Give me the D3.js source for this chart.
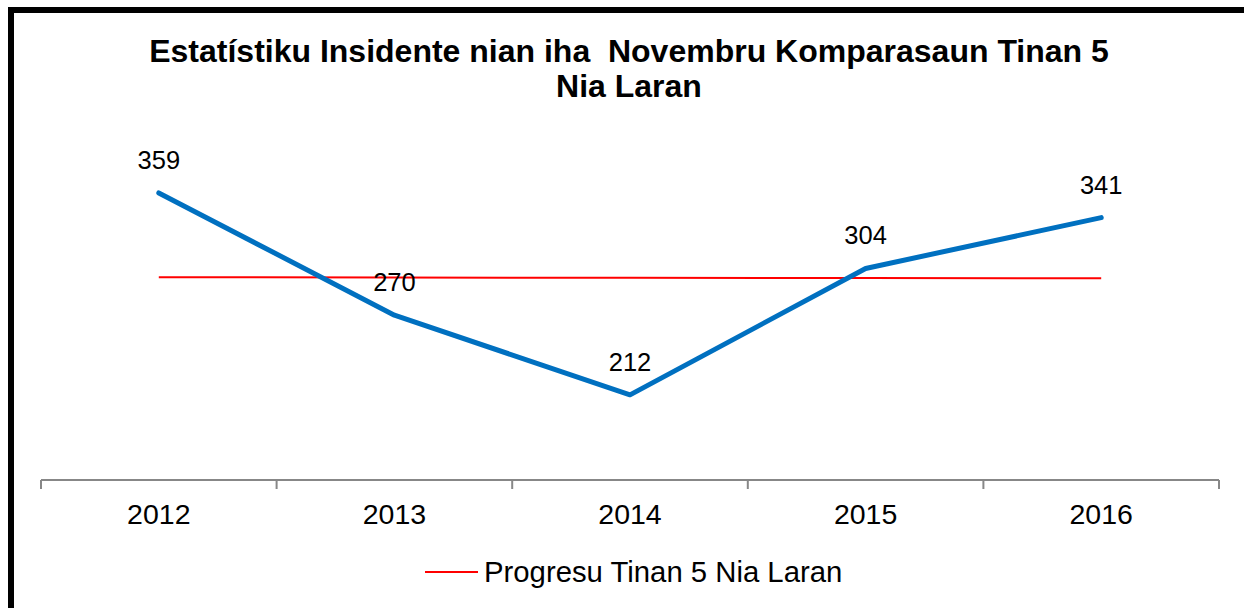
<!DOCTYPE html>
<html><head><meta charset="utf-8">
<script src="https://cdn.jsdelivr.net/npm/d3@7"></script>
<style>html,body{margin:0;padding:0;background:#fff;}svg{display:block;font-family:"Liberation Sans",Arial,sans-serif;}</style>
</head><body>
<svg id="chart" width="1244" height="608"></svg>
<script>
const years = ["2012","2013","2014","2015","2016"];
const incidents = [359, 270, 212, 304, 341];
const trend = [297.6, 297.4, 297.2, 297.0, 296.8];
const titleLines = ["Estatístiku Insidente nian iha  Novembru Komparasaun Tinan 5", "Nia Laran"];
const legendLabel = "Progresu Tinan 5 Nia Laran";

const svg = d3.select("#chart");
svg.append("rect").attr("x",11).attr("y",10).attr("width",1300).attr("height",700)
  .attr("fill","#fff").attr("stroke","#000").attr("stroke-width",6);

const x = d3.scaleBand().domain(years).range([41,1219]);
const y = d3.scaleLinear().domain([150,400]).range([480,136.6]);
const cx = d => x(d) + x.bandwidth()/2;

// title
svg.append("text").attr("text-anchor","middle").attr("font-weight","bold").attr("font-size",32)
  .selectAll("tspan").data(titleLines).join("tspan")
  .attr("x",629).attr("y",(d,i)=>62+i*35).attr("xml:space","preserve").style("white-space","pre").text(d=>d);

// axis
const g = svg.append("g").attr("transform","translate(0,480)");
g.append("line").attr("x1",41).attr("x2",1219).attr("y1",0).attr("y2",0).attr("stroke","#878787").attr("stroke-width",2);
const bounds = years.map(d=>x(d)).concat([x(years[years.length-1])+x.bandwidth()]);
g.selectAll("line.tick").data(bounds).join("line").attr("class","tick")
  .attr("x1",d=>d).attr("x2",d=>d).attr("y1",0).attr("y2",9).attr("stroke","#878787").attr("stroke-width",2);
g.selectAll("text").data(years).join("text").attr("x",d=>cx(d)).attr("y",44)
  .attr("text-anchor","middle").attr("font-size",28.5).attr("fill","#000").text(d=>d);

// trend line
const line = d3.line().x((d,i)=>cx(years[i])).y(d=>y(d));
svg.append("path").datum(trend).attr("d",line).attr("fill","none").attr("stroke","#ff0000").attr("stroke-width",2);

// main line
svg.append("path").datum(incidents).attr("d",line).attr("fill","none").attr("stroke","#0070c0")
  .attr("stroke-width",5).attr("stroke-linejoin","round").attr("stroke-linecap","round");

// labels
svg.selectAll("text.lbl").data(incidents).join("text").attr("class","lbl")
  .attr("x",(d,i)=>cx(years[i])).attr("y",d=>y(d)-24).attr("text-anchor","middle")
  .attr("font-size",25.5).attr("fill","#000").text(d=>d);

// legend
svg.append("line").attr("x1",425).attr("x2",478).attr("y1",572).attr("y2",572).attr("stroke","#ff0000").attr("stroke-width",2);
svg.append("text").attr("x",484).attr("y",582).attr("font-size",29.3).attr("fill","#000").text(legendLabel);
</script>
</body></html>
